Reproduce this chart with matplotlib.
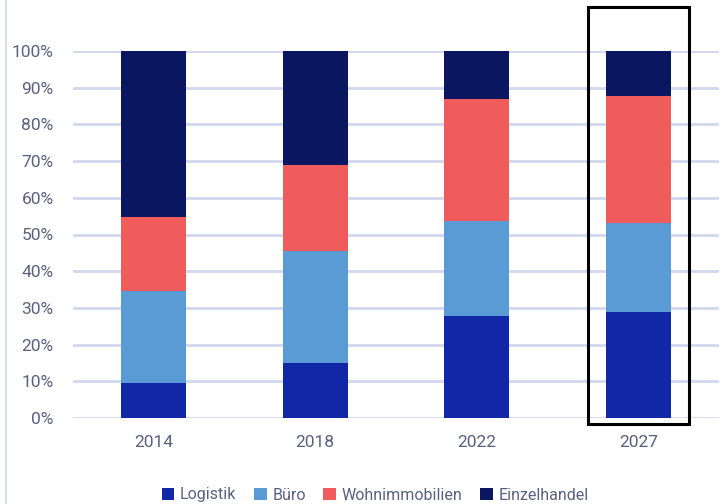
import matplotlib
matplotlib.use("Agg")
import matplotlib.pyplot as plt
from matplotlib.patches import Rectangle, Patch
from matplotlib.lines import Line2D
import numpy as np

years = ["2014", "2018", "2022", "2027"]
series = ["Logistik", "Büro", "Wohnimmobilien", "Einzelhandel"]
logistik = [9.5, 15.0, 27.8, 28.9]
buero = [25.1, 30.5, 25.9, 24.2]
wohnimmobilien = [20.2, 23.4, 33.2, 34.6]
einzelhandel = [45.2, 31.1, 13.1, 12.3]
yticks = [0, 10, 20, 30, 40, 50, 60, 70, 80, 90, 100]
ytick_labels = [f"{v}%" for v in yticks]

colors = ["#1226A8", "#5B9BD5", "#F05C5C", "#0B1660"]
text_color = "#5A6080"
grid_color = "#D2D7EE"

plt.rcParams["font.family"] = ["Roboto", "DejaVu Sans"]

fig = plt.figure(figsize=(7.25, 5.04), dpi=100)
ax = fig.add_axes([73 / 725, 86 / 504, 646 / 725, 367 / 504])

x = np.arange(len(years))
bottom = np.zeros(len(years))
for vals, col, name in zip([logistik, buero, wohnimmobilien, einzelhandel], colors, series):
    ax.bar(x, vals, width=0.4, bottom=bottom, color=col, label=name, zorder=3, linewidth=0)
    bottom += np.array(vals)

ax.set_xlim(-0.5, 3.5)
ax.set_ylim(0, 100)
ax.set_yticks(yticks)
ax.set_yticklabels(ytick_labels)
ax.set_xticks(x)
ax.set_xticklabels(years)
ax.tick_params(axis="both", length=0, labelsize=12.5, colors=text_color)
ax.tick_params(axis="y", pad=14)
ax.tick_params(axis="x", pad=12)
ax.yaxis.grid(True, color=grid_color, linewidth=2, zorder=0)
for s in ax.spines.values():
    s.set_visible(False)

# Highlight frame around the forecast year
ax.add_patch(Rectangle((3 - 0.313, -1.6), 0.626, 113.6, fill=False, edgecolor="black",
                       linewidth=2.2, clip_on=False, zorder=5))

# Light rule along the left edge
fig.add_artist(Line2D([6 / 725, 6 / 725], [0, 1], color="#D5DDF0", linewidth=1.5))

handles = [Patch(facecolor=c, edgecolor="none") for c in colors]
leg = fig.legend(handles, series, loc="center", bbox_to_anchor=(375 / 725, 9 / 504), ncol=4,
                 frameon=False, handlelength=0.8, handleheight=0.8, handletextpad=0.35,
                 columnspacing=1.1, prop={"size": 11.5})
for t in leg.get_texts():
    t.set_color(text_color)

fig.savefig("out.png", dpi=100)
